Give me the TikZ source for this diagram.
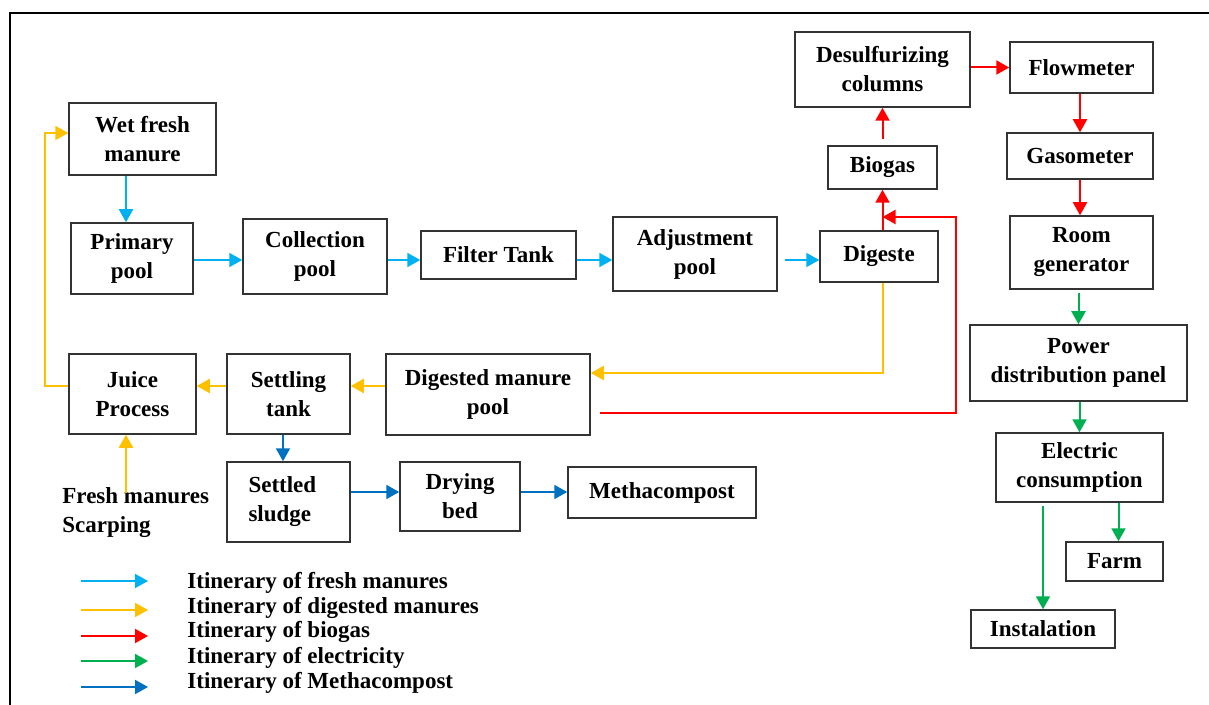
\documentclass[tikz,border=0pt]{standalone}
\usepackage{fontspec}
\setmainfont{Liberation Serif}
\usetikzlibrary{arrows.meta}
\definecolor{freshblue}{RGB}{0,176,240}
\definecolor{digestyellow}{RGB}{255,192,0}
\definecolor{gasred}{RGB}{255,0,0}
\definecolor{elecgreen}{RGB}{0,176,80}
\definecolor{compostblue}{RGB}{0,112,192}
\begin{document}
\begin{tikzpicture}
[x=0.5pt,y=-0.5pt,%
  every node/.style={font=\fontsize{11.5}{14.5}\selectfont\bfseries},
  box/.style={draw=black!80,line width=0.75pt,inner sep=0pt,align=center},
  sz/.style 2 args={minimum width=#1*0.5pt,minimum height=#2*0.5pt},
  link/.style={line width=1pt,-{Triangle[length=6.5pt,width=7pt]}},
  freshline/.style={link,draw=freshblue},
  digestline/.style={link,draw=digestyellow},
  gasline/.style={link,draw=gasred},
  powerline/.style={link,draw=elecgreen},
  compostline/.style={link,draw=compostblue}]
\useasboundingbox (0,0) rectangle (1209,705);
\draw[line width=1pt] (10,705) -- (10,13) -- (1209,13);
\node[box,sz={147}{72}] (wet) at (142.5,139) {Wet fresh\\manure};
\node[box,sz={122}{71}] (primary) at (132,258.5) {Primary\\pool};
\node[box,sz={144}{75}] (collect) at (315,256.5) {Collection\\pool};
\node[box,sz={155}{48}] (filter) at (498.5,255) {Filter Tank};
\node[box,sz={164}{74}] (adjust) at (695,254) {Adjustment\\pool};
\node[box,sz={118}{51}] (digeste) at (879,256.5) {Digeste};
\node[box,sz={109}{43}] (biogas) at (882.5,167.5) {Biogas};
\node[box,sz={175}{75}] (desulf) at (882.5,69.5) {Desulfurizing\\columns};
\node[box,sz={143}{51}] (flow) at (1081.5,67.5) {Flowmeter};
\node[box,sz={146}{46}] (gaso) at (1080,156) {Gasometer};
\node[box,sz={143}{73}] (room) at (1081.5,252.5) {Room\\generator};
\node[box,sz={217}{76}] (power) at (1078.5,363) {Power\\distribution panel};
\node[box,sz={167}{69}] (elec) at (1079.5,467.5) {Electric\\consumption};
\node[box,sz={97}{39}] (farm) at (1114.5,561.5) {Farm};
\node[box,sz={144}{38}] (instal) at (1043,629) {Instalation};
\node[box,sz={127}{80}] (juice) at (132.5,394) {Juice\\Process};
\node[box,sz={123}{80}] (settling) at (288.5,394) {Settling\\tank};
\node[box,sz={204}{81}] (digested) at (488,394.5) {Digested manure\\pool};
\node[box,sz={123}{80},align=left,text width=40pt] (settled) at (288.5,502) {Settled\\sludge};
\node[box,sz={120}{69}] (drying) at (460,496.5) {Drying\\bed};
\node[box,sz={188}{51}] (metha) at (662,492.5) {Methacompost};
\node[anchor=north west,inner sep=0pt,align=left] (scrap) at (62,487) {Fresh manures\\Scarping};
\coordinate (row) at (0,260);
\coordinate (lowrow) at (0,386);
\coordinate (comprow) at (0,492);
\coordinate (redturn) at (956,217);
% fresh manures
\draw[freshline] ([xshift=-8.25pt]wet.south) -- ([xshift=-3pt]primary.north);
\draw[freshline] (primary.east |- row) -- (collect.west |- row);
\draw[freshline] (collect.east |- row) -- (filter.west |- row);
\draw[freshline] (filter.east |- row) -- (adjust.west |- row);
\draw[freshline] ([xshift=3.5pt]adjust.east |- row) -- (digeste.west |- row);
% biogas
\draw[gasline] (digeste.north -| biogas.south) -- (biogas.south);
\draw[gasline] ([yshift=3pt]biogas.north) -- (desulf.south -| biogas.north);
\draw[gasline] (desulf.east |- flow.west) -- (flow.west);
\draw[gasline] (flow.south -| gaso.north) -- (gaso.north);
\draw[gasline] (gaso.south) -- (room.north -| gaso.south);
\draw[gasline] ([xshift=4.5pt,yshift=-9.25pt]digested.east) -| (redturn) -- (redturn -| biogas.south);
% electricity
\draw[powerline] ([yshift=-1.5pt]room.south -| power.north) -- (power.north);
\draw[powerline] (power.south -| elec.north) -- (elec.north);
\draw[powerline] ([xshift=2pt]farm.north |- elec.south) -- ([xshift=2pt]farm.north);
\draw[powerline] ([yshift=-1.5pt]elec.south -| instal.north) -- (instal.north);
% digested manures
\draw[digestline] (digeste.south -| biogas.south) |- ([yshift=10.75pt]digested.east);
\draw[digestline] (digested.west |- lowrow) -- (settling.east |- lowrow);
\draw[digestline] (settling.west |- lowrow) -- (juice.east |- lowrow);
\draw[digestline] (juice.west |- lowrow) -- ++(-11.5pt,0) |- ([yshift=3pt]wet.west);
\draw[digestline] ([xshift=-3.25pt,yshift=-3pt]juice.south |- scrap.north) -- ([xshift=-3.25pt]juice.south);
% methacompost
\draw[compostline] ([xshift=-2.75pt]settling.south) -- ([xshift=-2.75pt]settled.north);
\draw[compostline] (settled.east |- comprow) -- (drying.west |- comprow);
\draw[compostline] (drying.east |- comprow) -- (metha.west |- comprow);
% legend
\foreach \ya/\yt/\col/\txt [count=\i] in {581/583/freshblue/fresh manures,
    610/608/digestyellow/digested manures, 636/632/gasred/biogas,
    661/658/elecgreen/electricity, 687/683/compostblue/Methacompost}
{
  \coordinate (la\i) at (81,\ya);
  \draw[link,draw=\col] (la\i) -- ++(33.5pt,0);
  \node[anchor=west,inner sep=0pt] (leg\i) at (187,\yt) {Itinerary of \txt};
}
\end{tikzpicture}
\end{document}
